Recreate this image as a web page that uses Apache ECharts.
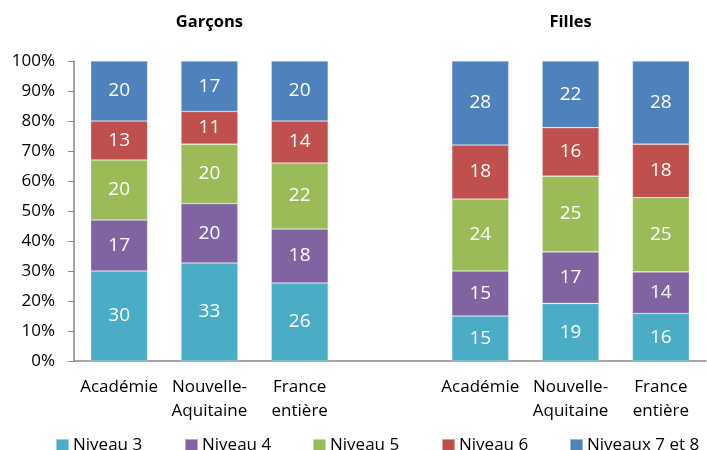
<!DOCTYPE html>
<html lang="fr">
<head>
    <meta charset="UTF-8">
    <title>Niveaux par sexe</title>
    <script src="https://cdn.jsdelivr.net/npm/echarts@6/dist/echarts.min.js"></script>
    <style>
        html, body {margin:0; padding:0; background:#fff}
    </style>
</head>
<body>
<div id="main" style="width: 707px; height:450px;"></div>
<script>
    // categories (slot 3 is the empty gap between the two groups)
    var categories = ['Académie', 'Nouvelle-\nAquitaine', 'France\nentière', '', 'Académie', 'Nouvelle-\nAquitaine', 'France\nentière'];
    var groups = ['', 'Garçons', '', '', '', 'Filles', ''];
    var names = ['Niveau 3', 'Niveau 4', 'Niveau 5', 'Niveau 6', 'Niveaux 7 et 8'];
    var yTicks = [0, 10, 20, 30, 40, 50, 60, 70, 80, 90, 100];

    var niveau3 = [30, 33, 26, null, 15, 19, 16];
    var niveau4 = [17, 20, 18, null, 15, 17, 14];
    var niveau5 = [20, 20, 22, null, 24, 25, 25];
    var niveau6 = [13, 11, 14, null, 18, 16, 18];
    var niveau78 = [20, 17, 20, null, 28, 22, 28];

    var colors = ['#4BACC6', '#8064A2', '#9BBB59', '#C0504D', '#4F81BD'];
    var font = 'Open Sans';

    var all = [niveau3, niveau4, niveau5, niveau6, niveau78];
    var totals = categories.map(function (c, i) {
        var s = 0;
        all.forEach(function (arr) { s += arr[i] || 0; });
        return s;
    });

    var series = all.map(function (arr, k) {
        return {
            name: names[k],
            type: 'bar',
            stack: 'tot',
            barWidth: '63%',
            itemStyle: {color: colors[k], borderColor: 'rgba(255,255,255,0.45)', borderWidth: 0.6},
            label: {
                show: true,
                color: '#fff',
                fontFamily: font,
                fontSize: 19,
                formatter: function (p) { return p.data.raw; }
            },
            data: arr.map(function (v, i) {
                if (v === null) return '-';
                return {value: v / totals[i] * 100, raw: v};
            })
        };
    });

    // one legend box per item so they sit on an even spacing
    var legendX = [50, 179, 307, 436, 564];
    var legends = names.map(function (n, k) {
        return {
            top: 432,
            left: legendX[k],
            itemWidth: 13,
            itemHeight: 13,
            icon: 'rect',
            textStyle: {fontSize: 17, color: '#000', fontFamily: font, padding: [0, 0, 0, -1]},
            data: [n]
        };
    });

    var chart = echarts.init(document.getElementById('main'));
    chart.setOption({
        animation: false,
        textStyle: {fontFamily: font},
        grid: {left: 74, right: 1, top: 61, bottom: 89, containLabel: false},
        legend: legends,
        xAxis: [{
            type: 'category',
            data: categories,
            axisLine: {lineStyle: {color: '#868686', width: 1.5}},
            axisTick: {show: false},
            axisLabel: {color: '#000', fontSize: 17, lineHeight: 24, margin: 14, interval: 0}
        }, {
            type: 'category',
            position: 'top',
            data: groups,
            axisLine: {show: false},
            axisTick: {show: false},
            axisLabel: {color: '#000', fontSize: 16.5, fontWeight: 'bold', margin: 30, interval: 0}
        }],
        yAxis: {
            type: 'value',
            min: 0,
            max: 100,
            interval: 10,
            axisLine: {show: true, lineStyle: {color: '#868686', width: 1.5}},
            axisTick: {show: true, length: 6, lineStyle: {color: '#868686'}},
            splitLine: {show: false},
            axisLabel: {
                color: '#000', fontSize: 17, margin: 19,
                formatter: function (v) { return yTicks.indexOf(v) >= 0 ? v + '%' : ''; }
            }
        },
        series: series
    });
</script>
</body>
</html>
